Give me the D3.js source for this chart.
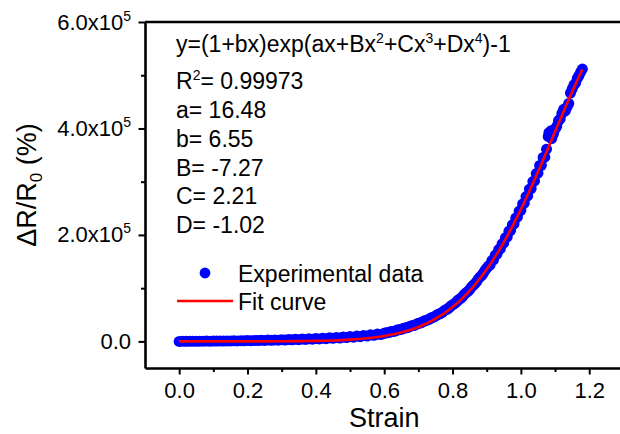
<!DOCTYPE html>
<html>
<head>
<meta charset="utf-8">
<script src="https://cdn.jsdelivr.net/npm/d3@7"></script>
<style>
  html, body { margin: 0; padding: 0; background: #fff; }
  svg text { font-family: "Liberation Sans", Arial, sans-serif; fill: #000; }
</style>
</head>
<body>
<svg id="chart" width="620" height="434"></svg>
<script>
// Experimental resistance change vs. strain
const expStrain = [
  0.00,0.01,0.02,0.03,0.04,0.05,0.06,0.07,0.08,0.09,
  0.10,0.11,0.12,0.13,0.14,0.15,0.16,0.17,0.18,0.19,
  0.20,0.21,0.22,0.23,0.24,0.25,0.26,0.27,0.28,0.29,
  0.30,0.31,0.32,0.33,0.34,0.35,0.36,0.37,0.38,0.39,
  0.40,0.41,0.42,0.43,0.44,0.45,0.46,0.47,0.48,0.49,
  0.50,0.51,0.52,0.53,0.54,0.55,0.56,0.57,0.58,0.59,
  0.60,0.605,0.61,0.615,0.62,0.625,0.63,0.635,0.64,0.645,
  0.65,0.655,0.66,0.665,0.67,0.675,0.68,0.685,0.69,0.695,
  0.70,0.705,0.71,0.715,0.72,0.725,0.73,0.735,0.74,0.745,
  0.75,0.755,0.76,0.765,0.77,0.775,0.78,0.785,0.79,0.795,
  0.80,0.805,0.81,0.815,0.82,0.825,0.83,0.835,0.84,0.845,
  0.85,0.855,0.86,0.865,0.87,0.875,0.88,0.885,0.89,0.895,
  0.90,0.905,0.91,0.915,0.92,0.925,0.93,0.935,0.94,0.945,
  0.95,0.955,0.96,0.965,0.97,0.975,0.98,0.985,0.99,0.995,
  1.00,1.005,1.01,1.015,1.02,1.025,1.03,1.035,1.04,1.045,
  1.05,1.055,1.06,1.065,1.07,1.075,1.08,1.082,1.085,1.088,
  1.09,1.095,1.10,1.105,1.11,1.115,1.12,1.125,1.13,1.135,
  1.14,1.145,1.15,1.155,1.16,1.165,1.17,1.175,1.18
];
const expValue = [
  0,100,200,100,300,200,400,300,500,400,
  600,500,800,600,900,800,1100,900,1300,1100,
  1500,1300,1800,1500,2100,1800,2400,2000,2800,2300,
  3100,2600,3500,2900,3900,3300,4400,3700,4900,4100,
  5400,4600,6000,5100,6700,5700,7400,6300,8200,7100,
  9100,7900,10100,8900,11200,10000,12400,11300,13800,12800,
  15300,16000,16200,17100,18500,18600,19000,20600,21700,21900,
  22500,24100,25200,25600,26400,28100,29300,29800,30800,32600,
  33900,34500,35700,37800,39200,39900,41100,43300,44700,45800,
  47600,49900,51300,52500,54600,57500,59400,60800,63200,66500,
  68700,70400,73100,76800,79300,81400,84600,88600,91500,93800,
  97300,101800,105100,107900,111800,116800,120600,123700,128000,133300,
  137500,141500,143600,151800,153200,161900,163800,172400,174100,183200,
  185300,194800,196500,206900,208700,218800,221000,231600,233700,244500,
  246300,257900,259800,271800,273600,286000,287200,300300,301500,315200,
  316000,330400,330900,345600,346100,361000,385000,392000,388500,395500,
  381000,389000,398500,404000,414500,418000,428500,436000,433000,440000,
  447000,466500,474000,481500,485000,494000,499500,506000,511500
];

// Fitted curve y=(1+bx)exp(ax+Bx^2+Cx^3+Dx^4)-1, sampled values
const fitStrain = [
  0.00,0.05,0.10,0.15,0.20,0.25,0.30,0.35,0.40,0.45,0.50,0.55,
  0.60,0.62,0.64,0.66,0.68,0.70,0.72,0.74,0.76,0.78,
  0.80,0.82,0.84,0.86,0.88,0.90,0.92,0.94,0.96,0.98,
  1.00,1.02,1.04,1.06,1.08,1.10,1.12,1.14,1.16,1.18
];
const fitValue = [
  0,2,7,19,46,105,227,467,926,1766,3253,5801,
  10009,12340,15136,18470,22426,27089,32564,38941,46333,54853,
  64595,75689,88219,102290,117990,135402,154491,175360,197935,222171,
  248079,275380,303859,333375,363531,394041,424512,454430,483350,510837
];

// Axis ticks
const xMajorTicks = [0, 0.2, 0.4, 0.6, 0.8, 1.0, 1.2];
const xMinorTicks = [0.1, 0.3, 0.5, 0.7, 0.9, 1.1];
const yMajorTicks = [0, 2e5, 4e5, 6e5];
const yMinorTicks = [1e5, 3e5, 5e5];

// Fit annotation lines
const fitParams = [
  ["a= ", "16.48"],
  ["b= ", "6.55"],
  ["B= ", "-7.27"],
  ["C= ", "2.21"],
  ["D= ", "-1.02"]
];
const rSquared = "0.99973";

const svg = d3.select("#chart");
const plotLeft = 145, plotTop = 22, plotBottom = 368;

const x = d3.scaleLinear().domain([-0.1, 1.3]).range([plotLeft, plotLeft + 478.4]);
const y = d3.scaleLinear().domain([-0.5e5, 6e5]).range([plotBottom, plotTop]);

const BLUE = "#0000ff", RED = "#ff0000";

// Experimental points
svg.append("g")
  .selectAll("circle")
  .data(expStrain.map((s, i) => [s, expValue[i]]))
  .join("circle")
  .attr("cx", d => x(d[0]))
  .attr("cy", d => y(d[1]))
  .attr("r", 5.5)
  .attr("fill", BLUE);

// Fit curve
const line = d3.line()
  .x(d => x(d[0]))
  .y(d => y(d[1]))
  .curve(d3.curveMonotoneX);
svg.append("path")
  .datum(fitStrain.map((s, i) => [s, fitValue[i]]))
  .attr("d", line)
  .attr("fill", "none")
  .attr("stroke", RED)
  .attr("stroke-width", 2.6);

// Axes
function styleAxis(g, w) {
  g.select(".domain").attr("stroke", "#000").attr("stroke-width", w);
  g.selectAll(".tick line").attr("stroke", "#000").attr("stroke-width", 2);
}

const gx = svg.append("g")
  .attr("transform", `translate(0,${plotBottom})`)
  .call(d3.axisBottom(x).tickValues(xMajorTicks).tickSize(6.5).tickSizeOuter(0)
    .tickPadding(8).tickFormat(d3.format(".1f")));
styleAxis(gx, 2.6);
gx.selectAll(".tick text").attr("font-size", 22).attr("font-family", "Liberation Sans, Arial, sans-serif");

const gxm = svg.append("g")
  .attr("transform", `translate(0,${plotBottom})`)
  .call(d3.axisBottom(x).tickValues(xMinorTicks).tickSize(4).tickFormat(""));
gxm.select(".domain").remove();
gxm.selectAll(".tick line").attr("stroke", "#000").attr("stroke-width", 2);

const gy = svg.append("g")
  .attr("transform", `translate(${plotLeft},0)`)
  .call(d3.axisLeft(y).tickValues(yMajorTicks).tickSize(6.5).tickSizeOuter(0)
    .tickPadding(7.5).tickFormat(() => ""));
styleAxis(gy, 2.6);
gy.selectAll(".tick text")
  .attr("font-size", 22)
  .attr("font-family", "Liberation Sans, Arial, sans-serif")
  .each(function(d) {
    const t = d3.select(this);
    if (d === 0) {
      t.text("0.0");
    } else {
      t.append("tspan").text((d / 1e5).toFixed(1) + "x10");
      t.append("tspan").attr("dy", -9).attr("font-size", 14).text("5");
    }
  });

const gym = svg.append("g")
  .attr("transform", `translate(${plotLeft},0)`)
  .call(d3.axisLeft(y).tickValues(yMinorTicks).tickSize(4).tickFormat(""));
gym.select(".domain").remove();
gym.selectAll(".tick line").attr("stroke", "#000").attr("stroke-width", 2);

// Top frame line
svg.append("line")
  .attr("x1", plotLeft).attr("x2", 620)
  .attr("y1", y(6e5)).attr("y2", y(6e5))
  .attr("stroke", "#000").attr("stroke-width", 2.6);

// Axis titles
svg.append("text")
  .attr("x", x(0.6)).attr("y", 427)
  .attr("text-anchor", "middle")
  .attr("font-size", 27)
  .text("Strain");

const yt = svg.append("text")
  .attr("transform", "translate(36,185) rotate(-90)")
  .attr("text-anchor", "middle")
  .attr("font-size", 27);
yt.append("tspan").text("ΔR/R");
yt.append("tspan").attr("dy", 6).attr("font-size", 17).text("0");
yt.append("tspan").attr("dy", -6).text(" (%)");

// Fit equation and parameters
const ann = svg.append("g").attr("font-size", 23);
const eq = ann.append("text").attr("x", 176).attr("y", 51.5);
const eqParts = [
  ["y=(1+bx)exp(ax+Bx", false], ["2", true], ["+Cx", false], ["3", true],
  ["+Dx", false], ["4", true], [")-1", false]
];
eqParts.forEach(([s, sup], i) => {
  const prevSup = i > 0 && eqParts[i - 1][1];
  eq.append("tspan")
    .attr("dy", sup ? -9 : (prevSup ? 9 : 0))
    .attr("font-size", sup ? 14 : 23)
    .text(s);
});

const r2 = ann.append("text").attr("x", 176).attr("y", 89);
r2.append("tspan").text("R");
r2.append("tspan").attr("dy", -9).attr("font-size", 14).text("2");
r2.append("tspan").attr("dy", 9).text("= " + rSquared);

fitParams.forEach(([k, v], i) => {
  ann.append("text")
    .attr("x", 176).attr("y", 118 + i * 28.8)
    .text(k + v);
});

// Legend
const lg = svg.append("g").attr("font-size", 23);
lg.append("circle").attr("cx", 205).attr("cy", 273).attr("r", 5.4).attr("fill", BLUE);
lg.append("text").attr("x", 238).attr("y", 281.5).text("Experimental data");
lg.append("line").attr("x1", 177).attr("x2", 233).attr("y1", 301).attr("y2", 301)
  .attr("stroke", RED).attr("stroke-width", 2.6);
lg.append("text").attr("x", 238).attr("y", 310).text("Fit curve");
</script>
</body>
</html>
